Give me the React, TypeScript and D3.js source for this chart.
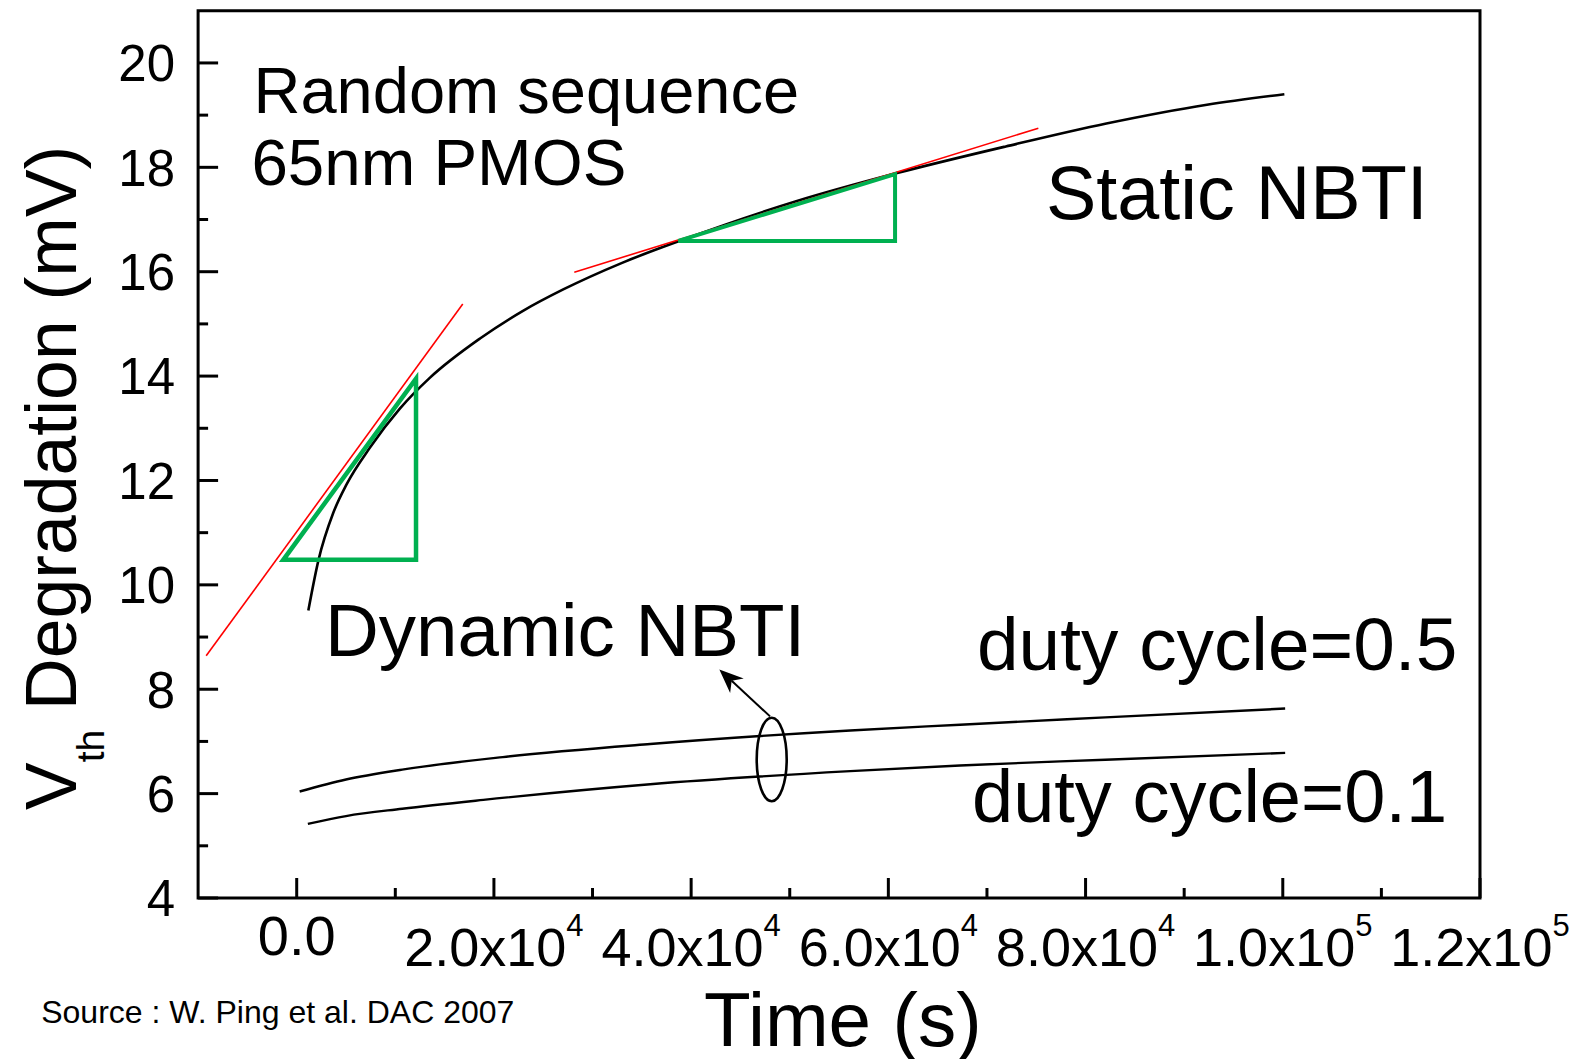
import React from "react";
import * as d3 from "d3";

// ---- data ----
const staticTime = [1180, 2190, 3710, 5070, 7430, 10480, 13520, 18590, 22950, 27030, 33000, 39270, 50490, 60690, 71910, 82110, 92310, 100160];
const staticVth = [9.51, 10.46, 11.38, 11.93, 12.63, 13.38, 13.97, 14.72, 15.25, 15.66, 16.17, 16.62, 17.34, 17.88, 18.40, 18.84, 19.20, 19.40];

const duty05Time = [300, 5000, 10700, 20900, 35850, 56130, 67270, 82000, 100240];
const duty05Vth = [6.04, 6.27, 6.46, 6.70, 6.95, 7.21, 7.32, 7.46, 7.63];

const duty01Time = [1130, 5000, 10700, 18930, 35850, 56130, 67270, 82000, 100240];
const duty01Vth = [5.42, 5.57, 5.71, 5.88, 6.18, 6.43, 6.54, 6.65, 6.78];

// red tangent lines: [t0, v0, t1, v1]
const tangentShort = [-9180, 8.64, 16840, 15.38];
const tangentLong = [28150, 15.99, 75210, 18.75];

// green slope triangles: [tLeft, vBottom, tRight, vTop]
const triangleEarly = [-1360, 10.48, 12100, 13.95];
const triangleLate = [38700, 16.59, 60680, 17.87];

// ellipse grouping the dynamic curves: [tCenter, vCenter, tRadius, vRadius]
const groupEllipse = [48170, 6.655, 1521, 0.8];
// arrow: [tFrom, vFrom, tTo, vTo]
const groupArrow = [48000, 7.48, 42860, 8.38];

const xMajorTicks = [0, 20000, 40000, 60000, 80000, 100000, 120000];
const xMajorLabels = ["0.0", "2.0x10", "4.0x10", "6.0x10", "8.0x10", "1.0x10", "1.2x10"];
const xMajorExponents = ["", "4", "4", "4", "4", "5", "5"];
const xMinorTicks = [10000, 30000, 50000, 70000, 90000, 110000];
const yMajorTicks = [4, 6, 8, 10, 12, 14, 16, 18, 20];
const yMajorLabels = ["4", "6", "8", "10", "12", "14", "16", "18", "20"];
const yMinorTicks = [5, 7, 9, 11, 13, 15, 17, 19];

const FONT = "'Liberation Sans', Arial, Helvetica, sans-serif";

export default function App() {
  const W = 1577;
  const H = 1059;
  const left = 198.1;
  const right = 1480;
  const top = 10.75;
  const bottom = 898;

  const x = d3.scaleLinear().domain([-10000, 120000]).range([left, right]);
  const y = d3.scaleLinear().domain([4, 21]).range([bottom, top]);

  const line = d3
    .line<[number, number]>()
    .x((d) => x(d[0]))
    .y((d) => y(d[1]))
    .curve(d3.curveMonotoneX);

  const zip = (a: number[], b: number[]) => a.map((v, i) => [v, b[i]] as [number, number]);

  const staticPath = line(zip(staticTime, staticVth)) || "";
  const d05Path = line(zip(duty05Time, duty05Vth)) || "";
  const d01Path = line(zip(duty01Time, duty01Vth)) || "";

  const tri = (t: number[]) => {
    const p = d3.path();
    p.moveTo(x(t[0]), y(t[1]));
    p.lineTo(x(t[2]), y(t[1]));
    p.lineTo(x(t[2]), y(t[3]));
    p.closePath();
    return p.toString();
  };

  // arrow geometry
  const ax0 = x(groupArrow[0]);
  const ay0 = y(groupArrow[1]);
  const ax1 = x(groupArrow[2]);
  const ay1 = y(groupArrow[3]);
  const ang = Math.atan2(ay1 - ay0, ax1 - ax0);
  const headLen = 24;
  const headHalf = 10;
  const bx = ax1 - headLen * Math.cos(ang);
  const by = ay1 - headLen * Math.sin(ang);
  const nx = -Math.sin(ang);
  const ny = Math.cos(ang);
  const notchX = ax1 - headLen * 0.7 * Math.cos(ang);
  const notchY = ay1 - headLen * 0.7 * Math.sin(ang);
  const head = `M${ax1},${ay1}L${bx + nx * headHalf},${by + ny * headHalf}L${notchX},${notchY}L${bx - nx * headHalf},${by - ny * headHalf}Z`;

  const ecx = x(groupEllipse[0]);
  const ecy = y(groupEllipse[1]);
  const erx = x(groupEllipse[0] + groupEllipse[2]) - ecx;
  const ery = ecy - y(groupEllipse[1] + groupEllipse[3]);

  return (
    <svg
      width={W}
      height={H}
      viewBox={`0 0 ${W} ${H}`}
      style={{ position: "absolute", left: 0, top: 0, background: "#fff" }}
      fontFamily={FONT}
    >
      <rect x={0} y={0} width={W} height={H} fill="#fff" />

      {/* frame */}
      <rect x={left} y={top} width={right - left} height={bottom - top} fill="none" stroke="#000" strokeWidth={3} />

      {/* y ticks */}
      {yMajorTicks.map((v, i) => (
        <g key={"ym" + v}>
          <line x1={left} x2={left + 20} y1={y(v)} y2={y(v)} stroke="#000" strokeWidth={3} />
          <text x={left - 23} y={y(v)} dy="0.36em" textAnchor="end" fontSize={51}>
            {yMajorLabels[i]}
          </text>
        </g>
      ))}
      {yMinorTicks.map((v) => (
        <line key={"yn" + v} x1={left} x2={left + 10} y1={y(v)} y2={y(v)} stroke="#000" strokeWidth={3} />
      ))}

      {/* x ticks */}
      {xMajorTicks.map((v, i) => (
        <g key={"xm" + v}>
          <line x1={x(v)} x2={x(v)} y1={bottom} y2={bottom - 20} stroke="#000" strokeWidth={3} />
          {xMajorExponents[i] === "" ? (
            <text x={x(v)} y={955} textAnchor="middle" fontSize={56}>
              {xMajorLabels[i]}
            </text>
          ) : (
            <text x={x(v)} y={966} textAnchor="middle" fontSize={54}>
              {xMajorLabels[i]}
              <tspan fontSize={31} dy={-30}>
                {xMajorExponents[i]}
              </tspan>
            </text>
          )}
        </g>
      ))}
      {xMinorTicks.map((v) => (
        <line key={"xn" + v} x1={x(v)} x2={x(v)} y1={bottom} y2={bottom - 10} stroke="#000" strokeWidth={3} />
      ))}

      {/* curves */}
      <path d={staticPath} fill="none" stroke="#000" strokeWidth={2.6} />
      <path d={d05Path} fill="none" stroke="#000" strokeWidth={2.4} />
      <path d={d01Path} fill="none" stroke="#000" strokeWidth={2.4} />

      {/* tangent lines */}
      <line x1={x(tangentShort[0])} y1={y(tangentShort[1])} x2={x(tangentShort[2])} y2={y(tangentShort[3])} stroke="#ff0000" strokeWidth={1.6} />
      <line x1={x(tangentLong[0])} y1={y(tangentLong[1])} x2={x(tangentLong[2])} y2={y(tangentLong[3])} stroke="#ff0000" strokeWidth={1.6} />

      {/* slope triangles */}
      <path d={tri(triangleEarly)} fill="none" stroke="#00b050" strokeWidth={4.5} />
      <path d={tri(triangleLate)} fill="none" stroke="#00b050" strokeWidth={4} />

      {/* ellipse + arrow */}
      <ellipse cx={ecx} cy={ecy} rx={erx} ry={ery} fill="none" stroke="#000" strokeWidth={2.6} />
      <line x1={ax0} y1={ay0} x2={notchX} y2={notchY} stroke="#000" strokeWidth={2} />
      <path d={head} fill="#000" />

      {/* annotations */}
      <text x={253.5} y={112.6} fontSize={65}>Random sequence</text>
      <text x={251.4} y={185} fontSize={65.5}>65nm PMOS</text>
      <text x={1046} y={218.5} fontSize={75.5}>Static NBTI</text>
      <text x={325} y={655.5} fontSize={74.5}>Dynamic NBTI</text>
      <text x={977} y={669.5} fontSize={74.8}>duty cycle=0.5</text>
      <text x={972} y={822} fontSize={74}>duty cycle=0.1</text>

      {/* axis titles */}
      <text x={704} y={1046} fontSize={76.5}>Time (s)</text>
      <text transform="translate(76,810) rotate(-90)" fontSize={71.5}>
        V
        <tspan fontSize={39} dy={28}>th</tspan>
        <tspan dy={-28}> Degradation (mV)</tspan>
      </text>

      {/* source */}
      <text x={41.2} y={1023} fontSize={32}>Source : W. Ping et al. DAC 2007</text>
    </svg>
  );
}
